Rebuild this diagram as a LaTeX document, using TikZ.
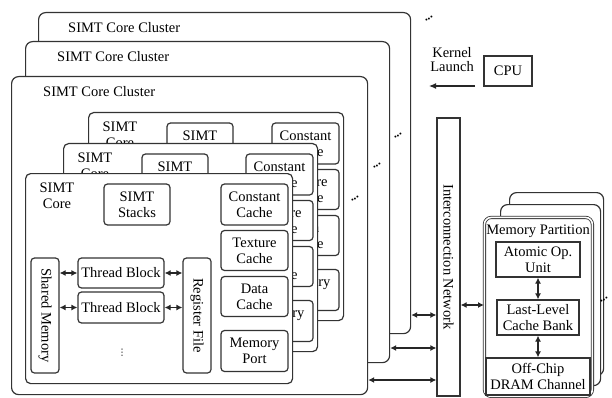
\documentclass[tikz,border=0pt]{standalone}
\usepackage{fontspec}
\setmainfont{Liberation Serif}
\newfontfamily\djv{DejaVu Sans}
\usetikzlibrary{arrows.meta}
\newcommand\txtfont{\fontsize{14.5}{16}\selectfont}
\tikzset{
  base/.style={draw=black!80, line width=1.2pt, fill=white},
  cluster/.style={base, rounded corners=7pt, anchor=north west, inner sep=0pt},
  corebox/.style={base, rounded corners=5pt, anchor=north west, inner sep=0pt},
  rbox/.style={base, rounded corners=3.5pt, inner sep=0pt, align=center, font=\txtfont},
  sbox/.style={base, inner sep=0pt, align=center, font=\txtfont},
  lbl/.style={inner sep=0pt, align=center, font=\txtfont},
  darr/.style={draw=black!85, line width=1.2pt, {Latex[length=6pt,width=6pt]}-{Latex[length=6pt,width=6pt]}},
  sarr/.style={draw=black!85, line width=1.2pt, -{Latex[length=7pt,width=6pt]}},
  dotmark/.style={inner sep=0pt, font=\fontsize{12}{12}\bfseries\selectfont, rotate=30}
}
% #1 name, #2 left, #3 top, #4 right, #5 bottom
\newcommand\drawcore[5]{%
  \node[corebox, minimum width={#4-#2}, minimum height={#5-#3}] (#1) at (#2,#3) {};
  \begin{scope}[shift={(#2,#3)}]
    \node[lbl] (#1lab) at (32,23) {SIMT\\Core};
    \node[rbox, minimum width=66, minimum height=41] (#1stk) at (112,31.5) {SIMT\\Stacks};
  \end{scope}
  \begin{scope}[shift={(#4,#3)}]
    \node[rbox, minimum width=67, minimum height=41] (#1cc) at (-37.5,31.5) {Constant\\Cache};
    \node[rbox, minimum width=67, minimum height=40] (#1tc) at (-37.5,77.5) {Texture\\Cache};
    \node[rbox, minimum width=67, minimum height=40] (#1dc) at (-37.5,123.5) {Data\\Cache};
    \node[rbox, minimum width=67, minimum height=41] (#1mp) at (-37.5,178) {Memory\\Port};
  \end{scope}
}
\begin{document}
\begin{tikzpicture}[x=1pt,y=-1pt]
\useasboundingbox (0,0) rectangle (612,398);
% clusters
\node[cluster, minimum width=372, minimum height=321] (cl3) at (38,12) {};
\node[lbl, anchor=west] (cl3lab) at (68,28) {SIMT Core Cluster};
\node[cluster, minimum width=364, minimum height=321] (cl2) at (25,41) {};
\node[lbl, anchor=west] (cl2lab) at (57,57) {SIMT Core Cluster};
\node[cluster, minimum width=356, minimum height=318] (cl1) at (11,76) {};
\node[lbl, anchor=west] (cl1lab) at (43,92) {SIMT Core Cluster};
% cores
\drawcore{cb}{88}{112}{343}{320}
\drawcore{cm}{63}{143}{317}{351}
\drawcore{cf}{25}{173}{292}{383}
% front core lower contents
\begin{scope}[shift={(25,173)}]
  \node[rbox, minimum width=28, minimum height=115] (sm) at (20,142.5) {};
  \node[lbl, rotate=-90] (smt) at (sm.center) {Shared Memory};
  \node[rbox, minimum width=86, minimum height=30] (tb1) at (96,100) {Thread Block};
  \node[rbox, minimum width=86, minimum height=31] (tb2) at (96,134.5) {Thread Block};
  \node[rbox, minimum width=28, minimum height=115] (rf) at (172,142.5) {};
  \node[lbl, rotate=-90] (rft) at (rf.center) {Register File};
  \node[inner sep=0pt, font=\djv\fontsize{9}{9}\selectfont] (vd) at (97,180) {⋮};
\end{scope}
\draw[darr] (sm.east |- tb1) -- (tb1.west);
\draw[darr] (sm.east |- tb2) -- (tb2.west);
\draw[darr] (tb1.east) -- (rf.west |- tb1);
\draw[darr] (tb2.east) -- (rf.west |- tb2);
% interconnect
\node[sbox, minimum width=23, minimum height=278] (net) at (448.5,257) {};
\node[lbl, rotate=-90] (nett) at (net.center) {Interconnection Network};
\coordinate (ya) at (0,315);
\coordinate (yb) at (0,348);
\coordinate (yc) at (0,380);
\coordinate (yd) at (0,305);
\draw[darr] (cl3.east |- ya) -- (net.west |- ya);
\draw[darr] (cl2.east |- yb) -- (net.west |- yb);
\draw[darr] (cl1.east |- yc) -- (net.west |- yc);
% CPU
\node[sbox, minimum width=48, minimum height=30] (cpu) at (508,71) {CPU};
\node[lbl, font=\fontsize{14.5}{14}\selectfont] (kl) at (452,60) {Kernel\\Launch};
\coordinate (kls) at (475,86);
\coordinate (kle) at (429,86);
\draw[sarr] (kls) -- (kle);
% memory partitions
\node[cluster, minimum width=94, minimum height=183] (mp3) at (509,192) {};
\node[cluster, minimum width=100, minimum height=181] (mp2) at (500,204) {};
\node[cluster, double=white, double distance=1.6pt, line width=0.8pt, minimum width=108, minimum height=179] (mp1) at (484,217) {};
\node[lbl] (mplab) at (538,231) {Memory Partition};
\node[sbox, minimum width=84, minimum height=35] (atom) at (538,259.5) {Atomic Op.\\Unit};
\node[sbox, minimum width=82, minimum height=35] (llc) at (538,317.5) {Last-Level\\Cache Bank};
\node[sbox, minimum width=104, minimum height=37] (dram) at (538,376.5) {Off-Chip\\DRAM Channel};
\draw[darr] (atom.south) -- (llc.north);
\draw[darr] (llc.south) -- (dram.north);
\draw[darr] (net.east |- yd) -- (mp1.west |- yd);
% ellipsis marks
\node[dotmark] (d1) at (429,19) {...};
\node[dotmark] (d2) at (398,136) {...};
\node[dotmark] (d3) at (377,166) {...};
\node[dotmark] (d4) at (355,199) {...};
\node[dotmark] (d5) at (604,300) {...};
\end{tikzpicture}
\end{document}
